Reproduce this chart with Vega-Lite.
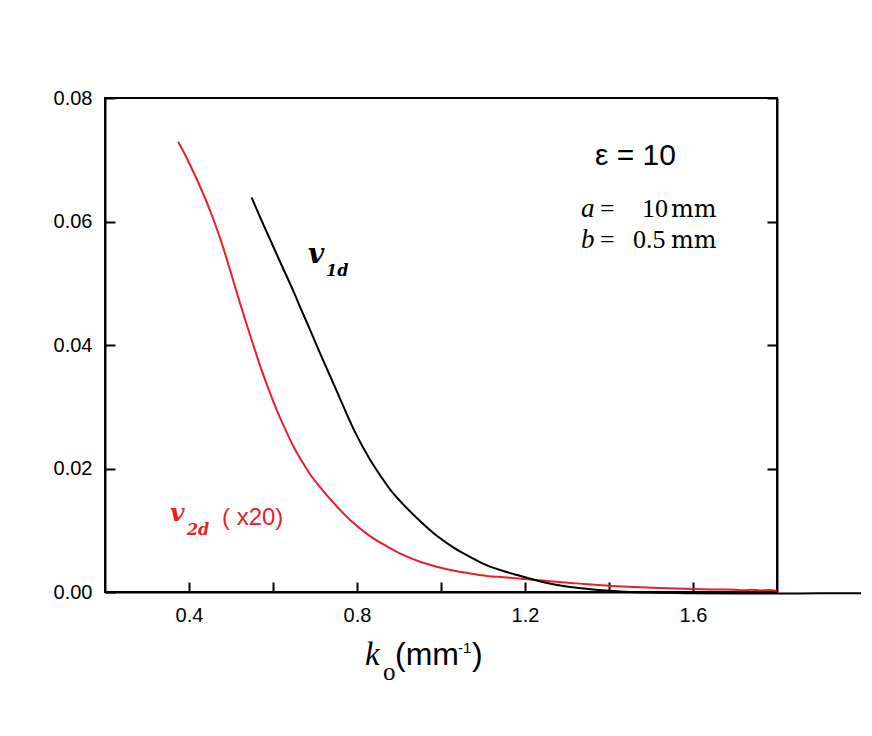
{
  "$schema": "https://vega.github.io/schema/vega-lite/v6.json",
  "width": 672,
  "height": 494,
  "autosize": {"type": "none"},
  "padding": {"left": 105, "top": 98, "right": 95, "bottom": 144},
  "background": "white",
  "config": {
    "view": {"stroke": "black", "strokeWidth": 2},
    "axis": {
      "grid": false,
      "domainColor": "black",
      "domainWidth": 2,
      "tickColor": "black",
      "tickWidth": 2,
      "labelFont": "Liberation Sans",
      "labelFontSize": 20,
      "labelColor": "black",
      "title": null
    }
  },
  "datasets": {
    "v2d": [
      {"k": 0.374, "v": 0.0729}, {"k": 0.39, "v": 0.0709}, {"k": 0.41, "v": 0.0681},
      {"k": 0.43, "v": 0.0651}, {"k": 0.45, "v": 0.0618}, {"k": 0.474, "v": 0.0573},
      {"k": 0.49, "v": 0.0539}, {"k": 0.505, "v": 0.0505}, {"k": 0.52, "v": 0.0471},
      {"k": 0.537, "v": 0.0434}, {"k": 0.555, "v": 0.0396}, {"k": 0.569, "v": 0.0367},
      {"k": 0.593, "v": 0.0322}, {"k": 0.61, "v": 0.0293}, {"k": 0.633, "v": 0.0258},
      {"k": 0.65, "v": 0.0234}, {"k": 0.672, "v": 0.0208}, {"k": 0.69, "v": 0.0189},
      {"k": 0.712, "v": 0.0170}, {"k": 0.75, "v": 0.0140}, {"k": 0.791, "v": 0.0112},
      {"k": 0.83, "v": 0.0091}, {"k": 0.871, "v": 0.0074}, {"k": 0.91, "v": 0.0060},
      {"k": 0.95, "v": 0.0049}, {"k": 0.99, "v": 0.0041}, {"k": 1.029, "v": 0.00348},
      {"k": 1.07, "v": 0.0030}, {"k": 1.109, "v": 0.0026}, {"k": 1.15, "v": 0.0024},
      {"k": 1.184, "v": 0.0022}, {"k": 1.22, "v": 0.0020}, {"k": 1.28, "v": 0.0016},
      {"k": 1.34, "v": 0.0013}, {"k": 1.40, "v": 0.0010}, {"k": 1.46, "v": 0.0008},
      {"k": 1.52, "v": 0.00063}, {"k": 1.6, "v": 0.00048}, {"k": 1.66, "v": 0.0004},
      {"k": 1.70, "v": 0.00035}, {"k": 1.72, "v": 0.0003}, {"k": 1.74, "v": 0.00036},
      {"k": 1.76, "v": 0.00026}, {"k": 1.78, "v": 0.00032}, {"k": 1.80, "v": 0.00022}
    ],
    "v1d": [
      {"k": 0.549, "v": 0.0639}, {"k": 0.57, "v": 0.0606}, {"k": 0.593, "v": 0.0571},
      {"k": 0.62, "v": 0.0530}, {"k": 0.648, "v": 0.0488}, {"k": 0.668, "v": 0.0456},
      {"k": 0.688, "v": 0.0425}, {"k": 0.708, "v": 0.0393}, {"k": 0.73, "v": 0.0359},
      {"k": 0.752, "v": 0.0325}, {"k": 0.775, "v": 0.0289}, {"k": 0.799, "v": 0.0254},
      {"k": 0.827, "v": 0.0219}, {"k": 0.855, "v": 0.0189}, {"k": 0.88, "v": 0.0165},
      {"k": 0.91, "v": 0.0142}, {"k": 0.95, "v": 0.0115}, {"k": 0.99, "v": 0.0091},
      {"k": 1.03, "v": 0.0072}, {"k": 1.069, "v": 0.0057}, {"k": 1.10, "v": 0.0046},
      {"k": 1.148, "v": 0.0034}, {"k": 1.184, "v": 0.0027}, {"k": 1.204, "v": 0.0023},
      {"k": 1.25, "v": 0.0015}, {"k": 1.299, "v": 0.0009}, {"k": 1.35, "v": 0.0005},
      {"k": 1.402, "v": 0.0002}, {"k": 1.45, "v": 0.0}, {"k": 1.5, "v": -0.0001},
      {"k": 1.6, "v": -0.0002}, {"k": 1.7, "v": -0.00025}, {"k": 1.8, "v": -0.00025},
      {"k": 1.9, "v": -0.0002}, {"k": 2.0, "v": -0.0002}
    ]
  },
  "layer": [
    {
      "data": {"name": "v2d"},
      "mark": {"type": "line", "color": "#e8202a", "strokeWidth": 2, "clip": false, "interpolate": "monotone"},
      "encoding": {
        "x": {
          "field": "k", "type": "quantitative",
          "scale": {"domain": [0.2, 1.8], "nice": false, "zero": false},
          "axis": {
            "orient": "bottom",
            "title": null,
            "values": [0.4, 0.6, 0.8, 1.0, 1.2, 1.4, 1.6],
            "format": ".1f",
            "labelExpr": "round(datum.value*10) % 4 == 0 ? datum.label : ''",
            "tickSize": -10,
            "labelPadding": 23,
            "labelFlush": false,
            "labelOverlap": false,
            "encode": {
              "ticks": {
                "update": {
                  "y2": {"signal": "round(datum.value*10) % 4 == 0 ? -10 : -5"}
                }
              }
            }
          }
        },
        "y": {
          "field": "v", "type": "quantitative",
          "scale": {"domain": [0, 0.08], "nice": false, "zero": false},
          "axis": {
            "orient": "left",
            "title": null,
            "values": [0, 0.02, 0.04, 0.06, 0.08],
            "format": ".2f",
            "tickSize": -10,
            "labelPadding": 23,
            "labelFlush": false,
            "labelOverlap": false
          }
        }
      }
    },
    {
      "data": {"name": "v1d"},
      "mark": {"type": "line", "color": "black", "strokeWidth": 2, "clip": false, "interpolate": "monotone"},
      "encoding": {
        "x": {"field": "k", "type": "quantitative", "axis": null},
        "y": {
          "field": "v", "type": "quantitative",
          "axis": {
            "orient": "right",
            "title": null,
            "values": [0, 0.02, 0.04, 0.06, 0.08],
            "labels": false,
            "tickSize": -10
          }
        }
      }
    },
    {
      "data": {"values": [
        {"x": 0.819, "y": -0.01182, "t": "k"}
      ]},
      "mark": {"type": "text", "font": "Liberation Serif", "fontStyle": "italic", "fontSize": 33, "align": "left", "baseline": "alphabetic", "clip": false, "color": "black"},
      "encoding": {
        "x": {"field": "x", "type": "quantitative", "axis": null},
        "y": {"field": "y", "type": "quantitative", "axis": null},
        "text": {"field": "t"}
      }
    },
    {
      "data": {"values": [
        {"x": 0.862, "y": -0.01425, "t": "o"}
      ]},
      "mark": {"type": "text", "font": "Liberation Serif", "fontSize": 25, "align": "left", "baseline": "alphabetic", "clip": false, "color": "black"},
      "encoding": {
        "x": {"field": "x", "type": "quantitative", "axis": null},
        "y": {"field": "y", "type": "quantitative", "axis": null},
        "text": {"field": "t"}
      }
    },
    {
      "data": {"values": [
        {"x": 0.8905, "y": -0.01182, "t": "(mm"},
        {"x": 1.0738, "y": -0.01182, "t": ")"}
      ]},
      "mark": {"type": "text", "font": "Liberation Sans", "fontSize": 32, "align": "left", "baseline": "alphabetic", "clip": false, "color": "black"},
      "encoding": {
        "x": {"field": "x", "type": "quantitative", "axis": null},
        "y": {"field": "y", "type": "quantitative", "axis": null},
        "text": {"field": "t"}
      }
    },
    {
      "data": {"values": [
        {"x": 1.0405, "y": -0.00988, "t": "-1"}
      ]},
      "mark": {"type": "text", "font": "Liberation Sans", "fontSize": 15, "align": "left", "baseline": "alphabetic", "clip": false, "color": "black"},
      "encoding": {
        "x": {"field": "x", "type": "quantitative", "axis": null},
        "y": {"field": "y", "type": "quantitative", "axis": null},
        "text": {"field": "t"}
      }
    },
    {
      "data": {"values": [
        {"x": 1.3667, "y": 0.06915, "t": "ε = 10"}
      ]},
      "mark": {"type": "text", "font": "Liberation Sans", "fontSize": 30, "align": "left", "baseline": "alphabetic", "clip": false, "color": "black"},
      "encoding": {
        "x": {"field": "x", "type": "quantitative", "axis": null},
        "y": {"field": "y", "type": "quantitative", "axis": null},
        "text": {"field": "t"}
      }
    },
    {
      "data": {"values": [
        {"x": 1.3333, "y": 0.06073, "t": "a"},
        {"x": 1.3333, "y": 0.05571, "t": "b"}
      ]},
      "mark": {"type": "text", "font": "Liberation Serif", "fontStyle": "italic", "fontSize": 27, "align": "left", "baseline": "alphabetic", "clip": false, "color": "black"},
      "encoding": {
        "x": {"field": "x", "type": "quantitative", "axis": null},
        "y": {"field": "y", "type": "quantitative", "axis": null},
        "text": {"field": "t"}
      }
    },
    {
      "data": {"values": [
        {"x": 1.3786, "y": 0.06073, "t": "="},
        {"x": 1.3786, "y": 0.05571, "t": "="},
        {"x": 1.4786, "y": 0.06073, "t": "10"},
        {"x": 1.457, "y": 0.05571, "t": "0.5"}
      ]},
      "mark": {"type": "text", "font": "Liberation Serif", "fontSize": 26, "align": "left", "baseline": "alphabetic", "clip": false, "color": "black"},
      "encoding": {
        "x": {"field": "x", "type": "quantitative", "axis": null},
        "y": {"field": "y", "type": "quantitative", "axis": null},
        "text": {"field": "t"}
      }
    },
    {
      "data": {"values": [
        {"x": 1.5476, "y": 0.06073, "t": "mm"},
        {"x": 1.5476, "y": 0.05571, "t": "mm"}
      ]},
      "mark": {"type": "text", "font": "DejaVu Serif", "fontSize": 24, "align": "left", "baseline": "alphabetic", "clip": false, "color": "black"},
      "encoding": {
        "x": {"field": "x", "type": "quantitative", "axis": null},
        "y": {"field": "y", "type": "quantitative", "axis": null},
        "text": {"field": "t"}
      }
    },
    {
      "data": {"values": [
        {"x": 0.6833, "y": 0.05328, "t": "v"}
      ]},
      "mark": {"type": "text", "font": "DejaVu Serif", "fontStyle": "italic", "fontWeight": "bold", "fontSize": 28, "align": "left", "baseline": "alphabetic", "clip": false, "color": "black"},
      "encoding": {
        "x": {"field": "x", "type": "quantitative", "axis": null},
        "y": {"field": "y", "type": "quantitative", "axis": null},
        "text": {"field": "t"}
      }
    },
    {
      "data": {"values": [
        {"x": 0.7262, "y": 0.05117, "t": "1d"}
      ]},
      "mark": {"type": "text", "font": "DejaVu Serif", "fontStyle": "italic", "fontWeight": "bold", "fontSize": 16, "align": "left", "baseline": "alphabetic", "clip": false, "color": "black"},
      "encoding": {
        "x": {"field": "x", "type": "quantitative", "axis": null},
        "y": {"field": "y", "type": "quantitative", "axis": null},
        "text": {"field": "t"}
      }
    },
    {
      "data": {"values": [
        {"x": 0.3548, "y": 0.0115, "t": "v"}
      ]},
      "mark": {"type": "text", "font": "DejaVu Serif", "fontStyle": "italic", "fontWeight": "bold", "fontSize": 25, "align": "left", "baseline": "alphabetic", "clip": false, "color": "#e8202a"},
      "encoding": {
        "x": {"field": "x", "type": "quantitative", "axis": null},
        "y": {"field": "y", "type": "quantitative", "axis": null},
        "text": {"field": "t"}
      }
    },
    {
      "data": {"values": [
        {"x": 0.3952, "y": 0.00923, "t": "2d"}
      ]},
      "mark": {"type": "text", "font": "DejaVu Serif", "fontStyle": "italic", "fontWeight": "bold", "fontSize": 16, "align": "left", "baseline": "alphabetic", "clip": false, "color": "#e8202a"},
      "encoding": {
        "x": {"field": "x", "type": "quantitative", "axis": null},
        "y": {"field": "y", "type": "quantitative", "axis": null},
        "text": {"field": "t"}
      }
    },
    {
      "data": {"values": [
        {"x": 0.4786, "y": 0.01085, "t": "( x20)"}
      ]},
      "mark": {"type": "text", "font": "Liberation Sans", "fontSize": 24, "align": "left", "baseline": "alphabetic", "clip": false, "color": "#e8202a"},
      "encoding": {
        "x": {"field": "x", "type": "quantitative", "axis": null},
        "y": {"field": "y", "type": "quantitative", "axis": null},
        "text": {"field": "t"}
      }
    }
  ],
  "resolve": {"axis": {"x": "independent", "y": "independent"}}
}
